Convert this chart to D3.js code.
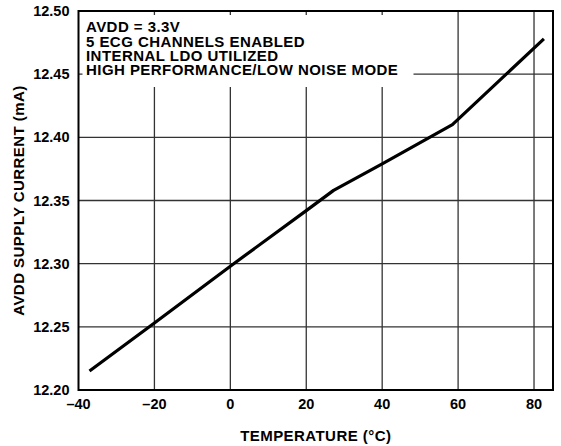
<!DOCTYPE html>
<html>
<head>
<meta charset="utf-8">
<script src="https://cdn.jsdelivr.net/npm/d3@7"></script>
<style>
  body { margin: 0; background: #fff; }
  text { font-family: "Liberation Sans", Arial, sans-serif; font-weight: bold; fill: #000; }
  .words { font-size: 15px; letter-spacing: 0.45px; }
</style>
</head>
<body>
<svg width="561" height="446"></svg>
<script>
// readings
var temps = [-37.1, -20, 0, 20, 27.2, 40, 58.5, 82.6];
var currents = [12.215, 12.253, 12.298, 12.342, 12.358, 12.379, 12.41, 12.478];

var xTicks = [-40, -20, 0, 20, 40, 60, 80];
var yTicks = [12.20, 12.25, 12.30, 12.35, 12.40, 12.45, 12.50];
var notes = ["AVDD = 3.3V", "5 ECG CHANNELS ENABLED", "INTERNAL LDO UTILIZED", "HIGH PERFORMANCE/LOW NOISE MODE"];

// plot box (note: "top" is taken by window.top)
var pL = 78.5, pR = 553, pT = 11, pB = 390;

var svg = d3.select("svg");

var x = d3.scaleLinear().domain([-40, 85]).range([pL, pR]);
var y = d3.scaleLinear().domain([12.20, 12.50]).range([pB, pT]);

// grid
svg.selectAll(".vg")
    .data(xTicks.slice(1))
    .enter()
    .append("line")
    .attr("x1", function(d) { return x(d); })
    .attr("x2", function(d) { return x(d); })
    .attr("y1", pT)
    .attr("y2", pB)
    .attr("stroke", "#333")
    .attr("stroke-width", 1.3);

svg.selectAll(".hg")
    .data(yTicks.slice(1, -1))
    .enter()
    .append("line")
    .attr("x1", pL)
    .attr("x2", pR)
    .attr("y1", function(d) { return y(d); })
    .attr("y2", function(d) { return y(d); })
    .attr("stroke", "#333")
    .attr("stroke-width", 1.3);

// white box behind the notes (leaves the small ticks showing)
svg.append("rect")
    .attr("x", pL + 4)
    .attr("y", pT + 4)
    .attr("width", 331)
    .attr("height", 72)
    .attr("fill", "#fff");

// frame
svg.append("rect")
    .attr("x", pL)
    .attr("y", pT)
    .attr("width", pR - pL)
    .attr("height", pB - pT)
    .attr("fill", "none")
    .attr("stroke", "#000")
    .attr("stroke-width", 2);

// notes
svg.selectAll(".note")
    .data(notes)
    .enter()
    .append("text")
    .attr("class", "words")
    .attr("x", 86)
    .attr("y", function(d, i) { return 32.3 + i * 14.3; })
    .text(function(d) { return d; });

// curve
var line = d3.line()
    .x(function(d) { return x(d[0]); })
    .y(function(d) { return y(d[1]); });

svg.append("path")
    .datum(d3.zip(temps, currents))
    .attr("d", line)
    .attr("fill", "none")
    .attr("stroke", "#000")
    .attr("stroke-width", 3.2)
    .attr("stroke-linejoin", "round");

// tick labels
svg.selectAll(".xl")
    .data(xTicks)
    .enter()
    .append("text")
    .attr("x", function(d) { return x(d); })
    .attr("y", 408.5)
    .attr("text-anchor", "middle")
    .attr("font-size", 14.5)
    .text(function(d) { return d < 0 ? "\u2013" + Math.abs(d) : d; });

svg.selectAll(".yl")
    .data(yTicks)
    .enter()
    .append("text")
    .attr("x", 69.5)
    .attr("y", function(d) { return y(d) + 5; })
    .attr("text-anchor", "end")
    .attr("font-size", 14.5)
    .text(function(d) { return d.toFixed(2); });

// axis titles
svg.append("text")
    .attr("class", "words")
    .attr("x", (pL + pR) / 2)
    .attr("y", 440.5)
    .attr("text-anchor", "middle")
    .text("TEMPERATURE (\u00B0C)");

svg.append("text")
    .attr("class", "words")
    .attr("transform", "translate(23.5," + (pT + pB) / 2 + ") rotate(-90)")
    .attr("text-anchor", "middle")
    .text("AVDD SUPPLY CURRENT (mA)");
</script>
</body>
</html>
